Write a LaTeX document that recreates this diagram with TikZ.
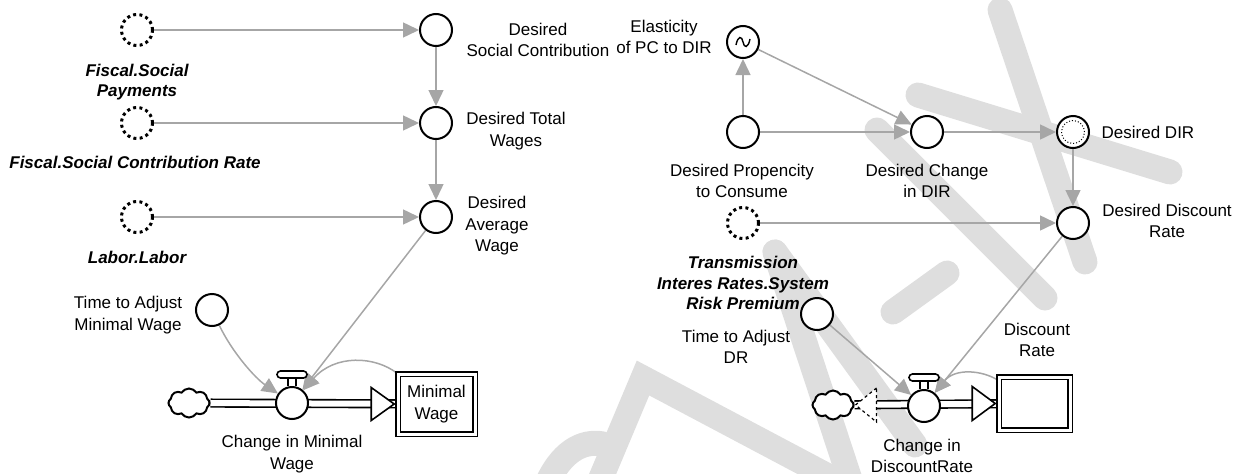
\documentclass[tikz,border=0pt]{standalone}
\usepackage{fontspec}
\setmainfont{Liberation Sans}
\usetikzlibrary{arrows.meta,shapes.symbols,calc}
\pgfdeclarelayer{wmlayer}
\pgfdeclarelayer{bglayer}
\pgfsetlayers{wmlayer,bglayer,main}
\definecolor{conn}{RGB}{166,166,166}
\definecolor{wmark}{RGB}{222,222,222}
\tikzset{
  aux/.style={circle,draw=black,line width=2pt,fill=white,minimum size=32pt,inner sep=0pt},
  ghost/.style={circle,draw=black,line width=3pt,dash pattern=on 3pt off 3.3pt,fill=white,minimum size=31pt,inner sep=0pt},
  lbl/.style={align=center,inner sep=0pt,font=\fontsize{17}{21.5}\selectfont},
  blbl/.style={align=center,inner sep=0pt,font=\fontsize{17}{20.5}\selectfont\bfseries\itshape},
  link/.style={draw=conn,line width=1.5pt,-{Triangle[length=16pt,width=15pt]}},
  pipe/.style={draw=black,line width=1.6pt,double=white,double distance=6pt},
  stockbox/.style={rectangle,draw=black,line width=1.6pt,double=white,double distance=3pt,fill=white,inner sep=0pt},
  cloudy/.style={cloud,cloud puffs=8,cloud puff arc=115,aspect=1.4,draw=black,line width=2pt,fill=white,minimum width=41pt,minimum height=29pt,inner sep=0pt},
  valvehandle/.style={draw=black,line width=1.6pt,fill=white,rounded corners=3.5pt},
  wmstroke/.style={draw=wmark,line width=25pt,line cap=round},
}
\begin{document}
\begin{tikzpicture}[x=1pt,y=-1pt]
\useasboundingbox (0,0) rectangle (1240,474);
% watermark
\begin{pgfonlayer}{wmlayer}
\clip (0,0) rectangle (1240,474);
\draw[wmstroke] (1000,10) -- (1085,262);
\draw[wmstroke] (918,95) -- (1170,172);
\draw[wmstroke] (877,130) -- (1045,298);
\draw[wmstroke] (893,312) -- (947,273);
\draw[wmstroke] (598,485) -- (643,378) -- (860,493);
\draw[wmstroke] (865,525) -- (775,252);
\draw[wmstroke] (775,252) -- (915,445);
\draw[wmstroke] (545,488) .. controls (560,452) and (582,440) .. (603,444);
\end{pgfonlayer}

% ---------- left part ----------
\node[ghost] (G1) at (137,30) {};
\node[blbl] (LG1) at (137,82) {Fiscal.Social\\Payments};
\node[ghost] (G2) at (137,123) {};
\node[blbl] (LG2) at (135,162) {Fiscal.Social Contribution Rate};
\node[ghost] (G3) at (137,217) {};
\node[blbl] (LG3) at (137,257) {Labor.Labor};

\node[aux] (DSC) at (436,30) {};
\node[lbl] (LDSC) at (538,40) {Desired\\Social Contribution};
\node[aux] (DTW) at (436,123) {};
\node[lbl] (LDTW) at (516,131) {Desired Total\\Wages};
\node[aux] (DAW) at (436,217) {};
\node[lbl] (LDAW) at (497,226) {Desired\\Average\\Wage};
\node[aux] (TAMW) at (212,310) {};
\node[lbl] (LTAMW) at (128,315) {Time to Adjust\\Minimal Wage};

\node[cloudy] (C1) at (189,403) {};
\node[aux] (V1) at (292,403) {};
\node[stockbox,minimum width=77pt,minimum height=60pt,lbl] (S1) at (436.5,404) {Minimal\\Wage};
\node[lbl] (LV1) at (292,454) {Change in Minimal\\Wage};

% ---------- right part ----------
\node[aux] (E) at (743,42) {};
\node[lbl] (LE) at (664,37) {Elasticity\\of PC to DIR};
\node[aux] (DPC) at (743,132) {};
\node[lbl] (LDPC) at (742,181) {Desired Propencity\\to Consume};
\node[aux] (DCD) at (927,132) {};
\node[lbl] (LDCD) at (927,181) {Desired Change\\in DIR};
\node[aux] (DD) at (1073,132) {};
\node[lbl] (LDD) at (1148,132) {Desired DIR};
\node[aux] (DDR) at (1073,223) {};
\node[lbl] (LDDR) at (1167,221) {Desired Discount\\Rate};
\node[ghost] (TIR) at (743,223) {};
\node[blbl] (LTIR) at (743,283) {Transmission\\Interes Rates.System\\Risk Premium};
\node[aux] (TADR) at (817,314) {};
\node[lbl] (LTADR) at (736,347) {Time to Adjust\\DR};

\node[cloudy] (C2) at (833,405) {};
\node[aux] (V2) at (924,406) {};
\node[stockbox,minimum width=71pt,minimum height=53pt] (S2) at (1034.5,403.5) {};
\node[lbl] (LS2) at (1037,340) {Discount\\Rate};
\node[lbl] (LV2) at (922,456) {Change in\\DiscountRate};

% symbols inside circles
\draw[line width=1.4pt,shift={(E.center)}] (-7,3) .. controls (-5,-7) and (-1,-6) .. (0,0) .. controls (1,6) and (5,7) .. (7,-3);
\draw[line width=1pt,dotted] (DD.center) circle[radius=11.5pt];

% valve handles
\draw[valvehandle] ($(V1.north)+(-15,-15)$) rectangle ($(V1.north)+(15,-8)$);
\draw[line width=1.5pt] ($(V1.north)+(-4,-8)$) -- ($(V1.north)+(-4,0)$);
\draw[line width=1.5pt] ($(V1.north)+(4,-8)$) -- ($(V1.north)+(4,0)$);
\draw[valvehandle] ($(V2.north)+(-15,-15)$) rectangle ($(V2.north)+(15,-8)$);
\draw[line width=1.5pt] ($(V2.north)+(-4,-8)$) -- ($(V2.north)+(-4,0)$);
\draw[line width=1.5pt] ($(V2.north)+(4,-8)$) -- ($(V2.north)+(4,0)$);

% flow arrowheads
\draw[line width=1.6pt,fill=white,line join=miter] ($(S1.west)+(-26,-16.5)$) -- ($(S1.west)+(-3,0)$) -- ($(S1.west)+(-26,16.5)$) -- cycle;
\draw[line width=1.6pt,fill=white,line join=miter] ($(S2.west)+(-26,-17)$) -- ($(S2.west)+(-3,0)$) -- ($(S2.west)+(-26,17)$) -- cycle;
\draw[line width=1.2pt,fill=white,dashed,line join=miter] ($(C2.east)+(22,-17)$) -- ($(C2.east)+(1,0)$) -- ($(C2.east)+(22,17)$) -- cycle;

% pipes and links
\begin{pgfonlayer}{bglayer}
\draw[pipe] (C1) -- (S1);
\draw[pipe] (C2) -- (S2);

\draw[link] (G1) -- (DSC);
\draw[link] (G2) -- (DTW);
\draw[link] (G3) -- (DAW);
\draw[link] (DSC) -- (DTW);
\draw[link] (DTW) -- (DAW);
\draw[link] (DAW) -- (V1);
\draw[link] (TAMW) .. controls (232,352) and (255,378) .. (V1);
\draw[link] (S1) .. controls (375,356) and (335,354) .. (V1);

\draw[link] (DPC) -- (E);
\draw[link] (E) -- (DCD);
\draw[link] (DPC) -- (DCD);
\draw[link] (DCD) -- (DD);
\draw[link] (DD) -- (DDR);
\draw[link] (TIR) -- (DDR);
\draw[link] (DDR) -- (V2);
\draw[link] (TADR) -- (V2);
\draw[link] (S2) .. controls (982,370) and (955,368) .. (V2);
\end{pgfonlayer}
\end{tikzpicture}
\end{document}
